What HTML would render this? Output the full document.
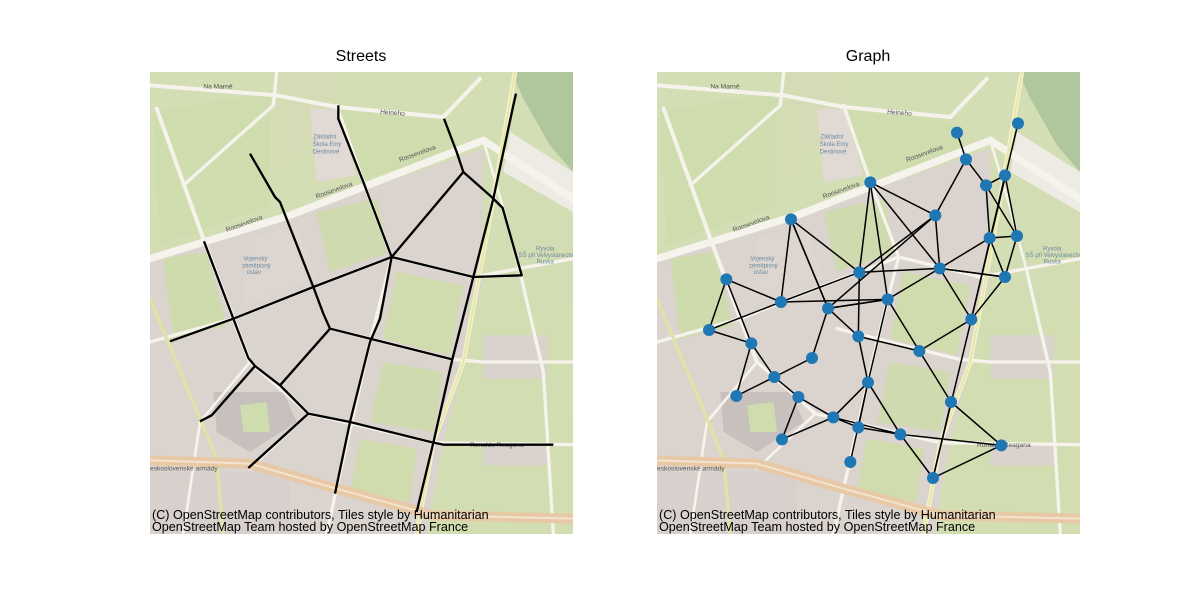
<!DOCTYPE html>
<html><head><meta charset="utf-8">
<style>
html,body{margin:0;padding:0;background:#fff;}
body{width:1200px;height:600px;position:relative;overflow:hidden;font-family:"Liberation Sans",sans-serif;}
.title{position:absolute;top:48px;font-size:16px;color:#000;transform:translateX(-50%);}
.panel{position:absolute;top:72px;width:423px;height:462px;overflow:hidden;}
.attr{position:absolute;left:2px;bottom:1px;font-size:12.6px;line-height:11.5px;color:#000;white-space:nowrap;}
</style></head>
<body>
<div class="title" style="left:361px">Streets</div>
<div class="title" style="left:868px">Graph</div>

<svg width="0" height="0" style="position:absolute">
 <defs>
  <g id="basemap">
   <rect x="0" y="0" width="1269" height="1386" fill="#d3deb4"/>
   <polygon points="0,560 420,430 1000,230 1000,620 940,870 880,1110 830,1386 0,1386" fill="#dad3ce"/>
   <polygon points="10,120 360,60 360,400 30,520" fill="#cfdcae"/>
   <polygon points="560,110 880,150 930,230 650,320" fill="#cfdcae"/>
   <polygon points="380,0 560,0 560,100 390,330" fill="#d5dcb5"/>
   <polygon points="480,110 560,110 620,310 500,330" fill="#e1d9d4"/>
   <polygon points="40,560 170,540 230,760 70,800" fill="#cedcad"/>
   <polygon points="300,500 440,460 500,620 280,700" fill="#ddd6d0"/>
   <polygon points="500,420 680,380 720,540 540,600" fill="#cfdbaf"/>
   <polygon points="740,600 940,640 900,850 700,800" fill="#d1dcae"/>
   <polygon points="700,870 880,900 850,1080 660,1050" fill="#cfdbaf"/>
   <polygon points="630,1100 800,1130 780,1290 600,1260" fill="#d0dcae"/>
   <polygon points="190,960 400,960 440,1050 300,1140 200,1080" fill="#c7c0bd"/>
   <polygon points="270,1000 350,990 360,1080 280,1080" fill="#cfdcae"/>
   <polygon points="960,680 1260,680 1269,1386 850,1386 900,1130 940,870" fill="#d2ddb2"/>
   <polygon points="1000,790 1190,790 1190,920 1000,920" fill="#d9d2cd"/>
   <polygon points="1000,1120 1200,1120 1200,1180 1000,1180" fill="#d9d2cd"/>
   <polygon points="1050,330 1269,320 1269,700 1090,700" fill="#d3ddb3"/>
   <polygon points="1085,0 1269,0 1269,300 1200,220 1120,80" fill="#b0c79d"/>
   <polygon points="1080,180 1269,300 1269,420 1060,300" fill="#eeebe5"/>
   <polygon points="0,1200 420,1200 420,1386 0,1386" fill="#d7d0cc"/>
   <g fill="none" stroke="#f6f3ec" stroke-linecap="round">
    <polyline points="0,560 420,430 1000,205 1269,380" stroke-width="22"/>
    <polyline points="0,40 380,70 560,105 880,135 990,20" stroke-width="12"/>
    <polyline points="100,340 370,100 380,0" stroke-width="10"/>
    <polyline points="20,110 160,500 250,740 300,870" stroke-width="12"/>
    <polyline points="560,100 640,330 725,555" stroke-width="10"/>
    <polyline points="0,810 250,740 490,645 725,555 970,615 1269,560" stroke-width="10"/>
    <polyline points="540,770 907,862 1000,870 1269,870" stroke-width="10"/>
    <polyline points="300,870 475,1025 850,1112 1269,1118" stroke-width="10"/>
    <polyline points="725,555 660,810 555,1270 530,1386" stroke-width="10"/>
    <polyline points="1110,600 1180,900 1210,1386" stroke-width="10"/>
    <polyline points="1000,205 1060,410 1110,600" stroke-width="8"/>
    <polyline points="300,870 150,1050 100,1386" stroke-width="8"/>
    <polyline points="475,1025 300,1190" stroke-width="8"/>
   </g>
   <polyline points="0,680 200,1160 220,1386" fill="none" stroke="#dfe3a8" stroke-width="10"/>
   <polyline points="1095,0 1030,380 940,870 850,1112 800,1386" fill="none" stroke="#f2f0d4" stroke-width="14"/>
   <polyline points="1095,0 1030,380 940,870 850,1112 800,1386" fill="none" stroke="#e6e89a" stroke-width="5"/>
   <polyline points="0,1165 300,1175 560,1250 850,1330 1269,1340" fill="none" stroke="#e8c9a6" stroke-width="30"/>
   <polyline points="0,1165 300,1175 560,1250 850,1330 1269,1340" fill="none" stroke="#f3e3cf" stroke-width="6"/>
   <g font-family="Liberation Sans, sans-serif" font-size="20" fill="#555">
    <text x="160" y="50">Na Marně</text>
    <text x="690" y="125" transform="rotate(5 690 125)">Heineho</text>
    <text x="500" y="380" transform="rotate(-20 500 380)">Roosevelova</text>
    <text x="750" y="270" transform="rotate(-20 750 270)">Roosevelova</text>
    <text x="230" y="480" transform="rotate(-20 230 480)">Roosevelova</text>
    <text x="960" y="1125">Ronalda Reagana</text>
    <text x="0" y="1195">eskoslovenské armády</text>
   </g>
   <g font-family="Liberation Sans, sans-serif" font-size="18" fill="#6a8aa0">
    <text x="490" y="200">Základní</text><text x="488" y="222">Škola Emy</text><text x="488" y="244">Destinové</text>
    <text x="280" y="566">Vojenský</text><text x="276" y="586">zeměpisný</text><text x="290" y="606">ústav</text>
    <text x="1158" y="535">Ryvola</text><text x="1106" y="555">SŠ při Velvyslanectví</text><text x="1160" y="575">Ruska</text>
   </g>
  </g>
 </defs>
</svg>

<div class="panel" style="left:150px">
<svg width="423" height="462" viewBox="0 0 1269 1386">
 <use href="#basemap"/>
 <g id="streets" fill="none" stroke="#000" stroke-width="7" stroke-linejoin="round"></g>
</svg>
<div class="attr">(C) OpenStreetMap contributors, Tiles style by Humanitarian<br>OpenStreetMap Team hosted by OpenStreetMap France</div>
</div>

<div class="panel" style="left:657px">
<svg width="423" height="462" viewBox="0 0 1269 1386">
 <use href="#basemap"/>
 <g id="edges" stroke="#000" stroke-width="4.5"></g>
 <g id="nodes" fill="#1f77b4"></g>
</svg>
<div class="attr">(C) OpenStreetMap contributors, Tiles style by Humanitarian<br>OpenStreetMap Team hosted by OpenStreetMap France</div>
</div>

<script>
const NS='http://www.w3.org/2000/svg';
const streetPaths=[
 [[565,100],[565,140],[640,330],[725,555]],
 [[882,140],[920,240],[940,300],[725,555],[690,740],[660,810],[600,1050],[555,1265]],
 [[940,300],[1025,375],[1058,408],[1115,610],[970,615],[725,555],[490,645],[250,740],[60,808]],
 [[300,245],[375,375],[390,390],[490,645],[520,725],[540,770],[907,862]],
 [[1098,65],[1090,100],[1030,380],[970,615],[907,862],[850,1112],[800,1320]],
 [[162,508],[250,740],[295,858],[315,882],[390,940],[475,1025],[600,1050],[850,1112],[880,1118],[1210,1118]],
 [[540,770],[390,940]],
 [[315,882],[185,1030],[150,1048]],
 [[475,1025],[295,1188]]
];
const nodeX=[900,1083,927,1044,987,640,835,402,998,1080,848,607,1044,208,692,372,513,943,156,283,604,787,465,352,633,238,424,882,529,604,730,1033,375,580,828];
const nodeY=[182,154,262,310,340,331,430,442,498,492,589,601,615,622,682,690,709,742,774,814,793,837,858,915,931,972,975,990,1036,1066,1087,1120,1102,1170,1218];
const edgeFrom=[0,2,2,4,4,4,3,1,3,8,8,8,9,10,10,10,10,10,5,5,5,6,6,11,11,11,7,7,15,15,15,13,13,18,19,19,23,23,23,22,16,16,20,20,14,14,14,21,21,17,24,24,24,26,26,32,28,28,29,30,30,27,27,31,24,12,12,5,7];
const edgeTo  =[2,6,4,3,8,9,9,17,17,9,10,12,12,12,17,6,11,14,6,11,14,11,16,15,20,7,15,16,13,18,14,18,19,19,25,23,22,26,25,16,20,14,21,24,24,21,16,17,27,34,28,30,29,28,32,28,29,30,30,31,34,31,34,34,33,17,10,10,16];

const gs=document.getElementById('streets');
streetPaths.forEach(function(p){
 const pl=document.createElementNS(NS,'polyline');
 pl.setAttribute('points',p.map(function(q){return q[0]+','+q[1];}).join(' '));
 
 
 gs.appendChild(pl);
});
const ge=document.getElementById('edges');
for(let i=0;i<edgeFrom.length;i++){
 const a=edgeFrom[i],b=edgeTo[i];
 const l=document.createElementNS(NS,'line');
 l.setAttribute('x1',nodeX[a]);l.setAttribute('y1',nodeY[a]);
 l.setAttribute('x2',nodeX[b]);l.setAttribute('y2',nodeY[b]);
 
 
 ge.appendChild(l);
}
const gn=document.getElementById('nodes');
for(let i=0;i<nodeX.length;i++){
 const c=document.createElementNS(NS,'circle');
 c.setAttribute('cx',nodeX[i]);c.setAttribute('cy',nodeY[i]);c.setAttribute('r',18);
 
 
 gn.appendChild(c);
}
</script>
</body></html>
